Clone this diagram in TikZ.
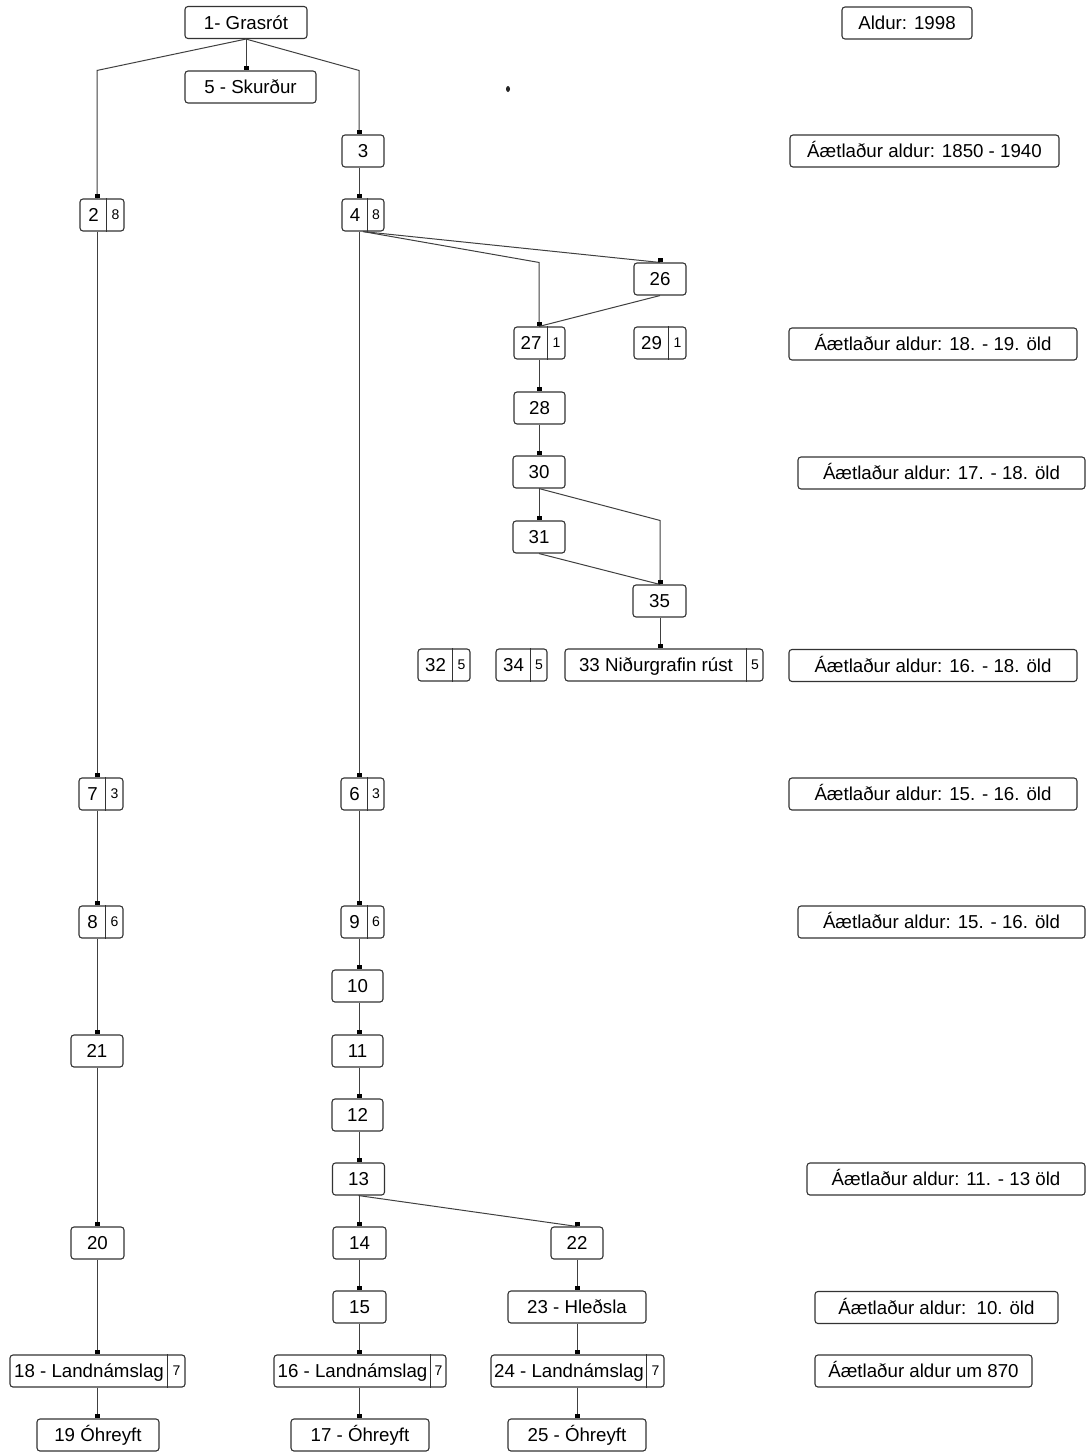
\documentclass[tikz,border=0pt]{standalone}
\usepackage{fontspec}
\setmainfont{Liberation Sans}
\newdimen\pxu \pxu=0.5pt
\newcommand\smallnum{\fontsize{7}{8}\selectfont}
\tikzset{
  nbox/.style={draw=black!80, line width=0.55pt, rounded corners=1.5pt, minimum height=32\pxu,
    inner sep=0pt, text height=6.7pt, text depth=0pt, font=\fontsize{9.35}{11}\selectfont, fill=white},
  nline/.style={draw=black!80, line width=0.55pt},
  conn/.style={draw=black!75, line width=0.5pt},
}
% name, x, y, total width, left width, left text, right text
\newcommand\splitnode[7]{%
  \node[nbox, minimum width=#4\pxu] (#1) at (#2,#3)
    {\makebox[#5\pxu]{#6}\makebox[\dimexpr#4\pxu-#5\pxu\relax]{\raisebox{2\pxu}{\smallnum #7}}};
  \draw[nline] ([xshift=#5\pxu]#1.north west) -- ([xshift=#5\pxu]#1.south west);}
\newcommand\plainnode[5]{%
  \node[nbox, minimum width=#4\pxu] (#1) at (#2,#3) {#5};}
\newcommand\mk[2]{\fill[black] (#1.north -| #2) ++(-2.5,0) rectangle ++(5,-4);}
\newcommand\vedge[3]{\draw[conn] (#1.south -| #3) -- (#2.north -| #3); \mk{#2}{#3}}
\begin{document}
\begin{tikzpicture}[x=0.5pt, y=-0.5pt]
\fill[white] (0,0) rectangle (1086,1452);
\useasboundingbox (0,0) rectangle (1086,1452);
% columns
\coordinate (cA) at (97,0);
\coordinate (cB) at (359,0);
\coordinate (cC) at (539,0);
\coordinate (cD) at (660,0);
\coordinate (cE) at (577,0);
\coordinate (cF) at (246,0);
% nodes
\plainnode{n1}{246}{22.5}{122}{1- Grasrót}
\plainnode{n5}{250.5}{87}{131}{5 - Skurður}
\plainnode{n3}{363}{151}{42}{3}
\splitnode{n2}{102}{215}{44}{27}{2}{8}
\splitnode{n4}{363}{215}{42}{26}{4}{8}
\plainnode{n26}{660}{279}{52}{26}
\splitnode{n27}{539.5}{343}{51}{34}{27}{1}
\splitnode{n29}{660}{343}{52}{35}{29}{1}
\plainnode{n28}{539.5}{408}{51}{28}
\plainnode{n30}{539}{472}{52}{30}
\plainnode{n31}{539}{537}{52}{31}
\plainnode{n35}{659.5}{601}{53}{35}
\splitnode{n32}{444}{665}{52}{35}{32}{5}
\splitnode{n34}{521.5}{665}{51}{35}{34}{5}
\splitnode{n33}{664}{665}{198}{182}{33 Niðurgrafin rúst}{5}
\splitnode{n7}{101}{794}{44}{27}{7}{3}
\splitnode{n6}{362.5}{794}{43}{27}{6}{3}
\splitnode{n8}{101}{922}{44}{27}{8}{6}
\splitnode{n9}{362.5}{922}{43}{27}{9}{6}
\plainnode{n10}{357.5}{986}{51}{10}
\plainnode{n21}{97}{1051}{52}{21}
\plainnode{n11}{357.5}{1051}{51}{11}
\plainnode{n12}{357.5}{1115}{51}{12}
\plainnode{n13}{358.5}{1179}{52}{13}
\plainnode{n20}{97.5}{1243}{53}{20}
\plainnode{n14}{359.5}{1243}{53}{14}
\plainnode{n22}{577}{1243}{52}{22}
\plainnode{n15}{359.5}{1307}{53}{15}
\plainnode{n23}{577}{1307}{138}{23 - Hleðsla}
\splitnode{n18}{97.5}{1371}{175}{158}{18 - Landnámslag}{7}
\splitnode{n16}{360}{1371}{172}{157}{16 - Landnámslag}{7}
\splitnode{n24}{577.5}{1371}{173}{156}{24 - Landnámslag}{7}
\plainnode{n19}{98}{1435}{122}{19 Óhreyft}
\plainnode{n17}{360}{1435}{138}{17 - Óhreyft}
\plainnode{n25}{577}{1435}{138}{25 - Óhreyft}
% age labels
\plainnode{L0}{907}{23}{130}{Aldur: 1998}
\plainnode{L2}{924.5}{151}{269}{Áætlaður aldur: 1850 - 1940}
\plainnode{L5}{933}{344}{288}{Áætlaður aldur: 18. - 19. öld}
\plainnode{L7}{941.5}{473}{287}{Áætlaður aldur: 17. - 18. öld}
\plainnode{L10}{933}{665.5}{288}{Áætlaður aldur: 16. - 18. öld}
\plainnode{L12}{933}{794}{288}{Áætlaður aldur: 15. - 16. öld}
\plainnode{L14}{941.5}{922}{287}{Áætlaður aldur: 15. - 16. öld}
\plainnode{L18}{946}{1179}{278}{Áætlaður aldur: 11. - 13 öld}
\plainnode{L20}{936.5}{1307.5}{243}{Áætlaður aldur:\ \ 10. öld}
\plainnode{L21}{923.5}{1371}{217}{Áætlaður aldur um 870}
% stray dot
\fill[black!85] (508,89) ellipse (2 and 3);
% connectors
\draw[conn] (n1.south) -- (n5.north -| cF); \mk{n5}{cF}
\draw[conn] (n1.south) -- (n5.north -| cA) -- (n2.north -| cA); \mk{n2}{cA}
\draw[conn] (n1.south) -- (n5.north -| cB) -- (n3.north -| cB); \mk{n3}{cB}
\vedge{n3}{n4}{cB}
\vedge{n2}{n7}{cA}
\vedge{n4}{n6}{cB}
\draw[conn] (n4.south) -- (n26.north -| cC) -- (n27.north -| cC); \mk{n27}{cC}
\draw[conn] (n4.south) -- (n26.north -| cD); \mk{n26}{cD}
\draw[conn] (n26.south) -- (n27.north -| cC);
\vedge{n27}{n28}{cC}
\vedge{n28}{n30}{cC}
\vedge{n30}{n31}{cC}
\draw[conn] (n30.south) -- (n31.north -| cD) -- (n35.north -| cD); \mk{n35}{cD}
\draw[conn] (n31.south) -- (n35.north -| cD);
\vedge{n35}{n33}{cD}
\vedge{n7}{n8}{cA}
\vedge{n8}{n21}{cA}
\vedge{n21}{n20}{cA}
\vedge{n20}{n18}{cA}
\vedge{n18}{n19}{cA}
\vedge{n6}{n9}{cB}
\vedge{n9}{n10}{cB}
\vedge{n10}{n11}{cB}
\vedge{n11}{n12}{cB}
\vedge{n12}{n13}{cB}
\vedge{n13}{n14}{cB}
\draw[conn] (n13.south) -- (n22.north -| cE); \mk{n22}{cE}
\vedge{n14}{n15}{cB}
\vedge{n15}{n16}{cB}
\vedge{n16}{n17}{cB}
\vedge{n22}{n23}{cE}
\vedge{n23}{n24}{cE}
\vedge{n24}{n25}{cE}
\end{tikzpicture}
\end{document}
